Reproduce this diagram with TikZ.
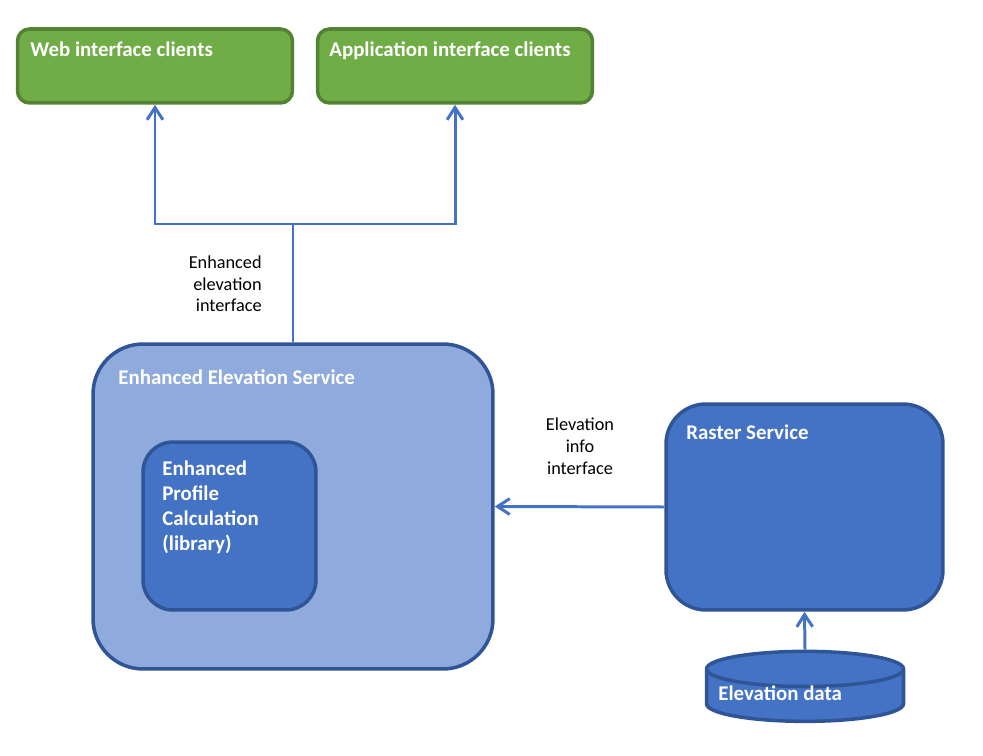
\documentclass[tikz,border=0pt]{standalone}
\usepackage{fontspec}
\setmainfont{Carlito}
\usepackage{xcolor}
\usepackage{tikz}
\usetikzlibrary{positioning,shapes.geometric,arrows.meta}
\definecolor{clientgreen}{HTML}{70AD47}
\definecolor{clientedge}{HTML}{548235}
\definecolor{serviceblue}{HTML}{4472C4}
\definecolor{servicelight}{HTML}{8FAADC}
\definecolor{serviceedge}{HTML}{2F5597}
\tikzstyle{client} = [draw=clientedge, fill=clientgreen, line width=2pt, rectangle, rounded corners=0.24cm, minimum width=5.5cm, minimum height=1.48cm]
\tikzstyle{service} = [draw=serviceedge, fill=serviceblue, line width=2pt, rectangle]
\tikzstyle{title} = [text=white, font=\fontsize{11.9}{14.2}\selectfont\bfseries, inner sep=0pt, align=left]
\tikzstyle{iface} = [font=\fontsize{10.4}{12.5}\selectfont, inner sep=0pt]
\tikzstyle{link} = [draw=serviceblue, line width=1.7pt, -{Straight Barb[length=7pt,width=9pt]}]

\begin{document}
\begin{tikzpicture}[x=0.02cm, y=-0.02cm]
		\useasboundingbox (0,0) rectangle (983,756);

		\node [client] (web) at (155,66) {};
		\node [client] (app) at (455,66) {};
		\node [service, fill=servicelight, rounded corners=1cm, minimum width=8.0cm, minimum height=6.5cm] (ees) at (293,506.5) {};
		\node [service, rounded corners=0.6cm, minimum width=3.46cm, minimum height=3.36cm] (epc) at (229.5,526) {};
		\node [service, rounded corners=0.8cm, minimum width=5.54cm, minimum height=4.12cm] (raster) at (804.5,507) {};
		\node [service, cylinder, shape border rotate=90, aspect=3, minimum width=3.94cm, minimum height=1.4cm] (data) at (805,699) {};

		\node [title, anchor=base west] (webtitle) at (30,57) {Web interface clients};
		\node [title, anchor=base west] (apptitle) at (329,57) {Application interface clients};
		\node [title, anchor=base west] (eestitle) at (118,385) {Enhanced Elevation Service};
		\node [title, anchor=base west] (epctitle) at (162,550) {Enhanced\\Profile\\Calculation\\(library)};
		\node [title, anchor=base west] (rastertitle) at (686,439) {Raster Service};
		\node [title, anchor=base west] (datatitle) at (718,700) {Elevation data};

		\node [iface, align=right, anchor=base east] (eeilabel) at (262,312) {Enhanced\\elevation\\interface};
		\node [iface, align=center, anchor=base] (eiilabel) at (580,474) {Elevation\\info\\interface};

		\coordinate (split) at (293,224);
		\draw [link, -] (ees.north) -- (split);
		\draw [link] (split) -| (web.south);
		\draw [link] (split) -| (app.south);
		\draw [link] (raster.west) -- (ees.east);
		\draw [link] (data.north) -- (raster.south);
	\end{tikzpicture}
\end{document}
